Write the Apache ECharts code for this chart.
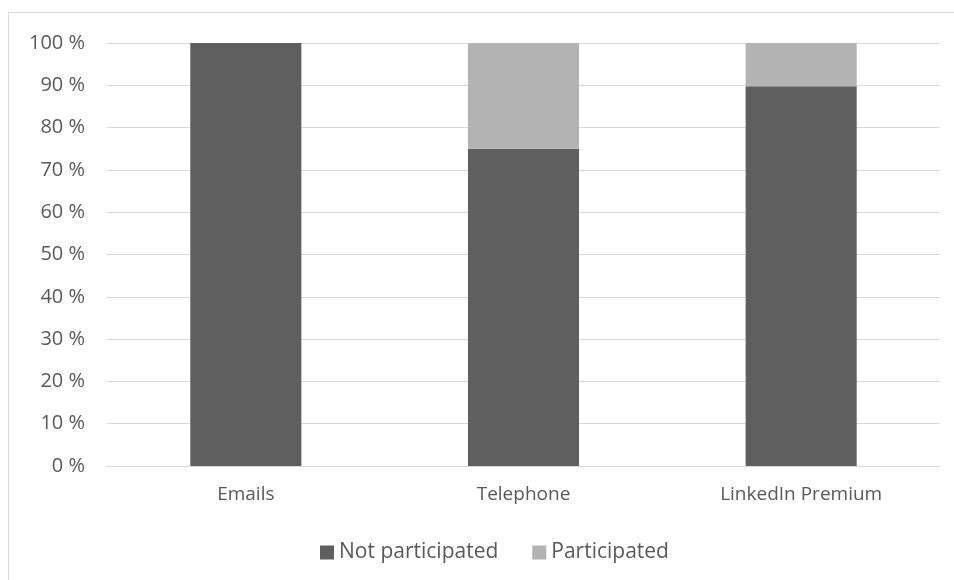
<!DOCTYPE html>
<html>
<head>
<meta charset="utf-8">
<script src="https://cdn.jsdelivr.net/npm/echarts@6/dist/echarts.min.js"></script>
<style>
  html, body { margin: 0; padding: 0; background: #ffffff; }
  #frame {
    position: absolute; left: 8px; top: 12px;
    width: 960px; height: 600px;
    border: 1px solid #d9d9d9; box-sizing: border-box;
  }
  #chart { position: absolute; left: 0; top: 0; width: 954px; height: 580px; }
</style>
</head>
<body>
<div id="frame"></div>
<div id="chart"></div>
<script>
// categories and shares (%)
const categories = ['Emails', 'Telephone', 'LinkedIn Premium']
const notParticipated = [100, 75, 89.8]
const participated = [0, 25, 10.2]

const myChart = echarts.init(document.getElementById('chart'))
const font = '"Open Sans", "Liberation Sans", sans-serif'

myChart.setOption({
  animation: false,
  textStyle: { fontFamily: font },
  grid: { left: 107, right: 14, top: 43, bottom: 114 },
  legend: {
    top: 537,
    left: 315,
    itemWidth: 14,
    itemHeight: 14,
    itemGap: 34,
    icon: 'rect',
    textStyle: { fontSize: 21, color: '#595959', fontFamily: font },
    data: ['Not participated', 'Participated']
  },
  xAxis: {
    type: 'category',
    data: categories,
    axisLine: { lineStyle: { color: '#d9d9d9' } },
    axisTick: { show: false },
    axisLabel: { fontSize: 19, color: '#595959', margin: 19 }
  },
  yAxis: {
    type: 'value',
    min: 0, max: 100, interval: 10,
    axisLine: { show: false },
    axisTick: { show: false },
    splitLine: { lineStyle: { color: '#d9d9d9', width: 1 } },
    axisLabel: { fontSize: 20, color: '#595959', margin: 22, formatter: v => v + ' %' }
  },
  series: [
    {
      name: 'Not participated', type: 'bar', stack: 'total',
      barWidth: '40%', data: notParticipated,
      itemStyle: { color: '#5f5f5f' }
    },
    {
      name: 'Participated', type: 'bar', stack: 'total',
      barWidth: '40%', data: participated,
      itemStyle: { color: '#b3b3b3' }
    }
  ]
})
</script>
</body>
</html>
